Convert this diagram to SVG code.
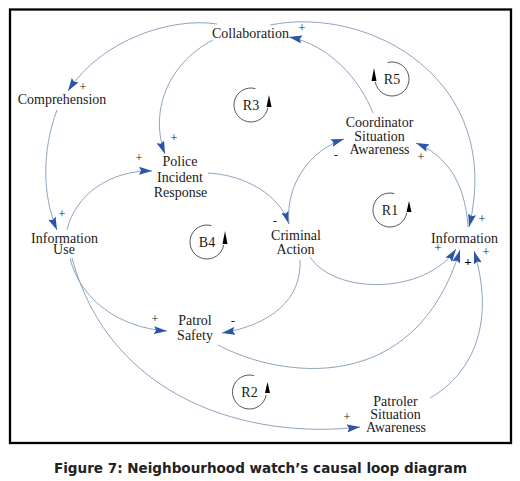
<svg xmlns="http://www.w3.org/2000/svg" width="520" height="481" viewBox="0 0 520 481">
<style>
text.lbl{font-family:'Liberation Serif',serif;font-size:14px;fill:#1a1a1a;text-anchor:middle}
text.pol{font-family:'Liberation Serif',serif;font-size:13px;fill:#222;text-anchor:middle}
.con{fill:none;stroke:#8ea4bf;stroke-width:1}
.loop{fill:none;stroke:#444;stroke-width:0.9}
.larr{fill:#000}
text.cap{font-family:'DejaVu Sans',sans-serif;font-weight:bold;font-size:13.5px;fill:#222;text-anchor:middle}
</style>
<defs>
<marker id="ah" markerUnits="userSpaceOnUse" markerWidth="13" markerHeight="8" viewBox="0 0 13 8" refX="13" refY="4" orient="auto">
<path d="M0,0 L13,4 L0,8 L2,4 z" fill="#2b55a8"/>
</marker>
</defs>
<rect id="frame" x="10" y="9.5" width="501" height="433.5" fill="none" stroke="#000" stroke-width="2.3"/>
<g id="connectors">
<path class="con" d="M217,24 C172,17 102,39 68,91" marker-end="url(#ah)"/>
<path class="con" d="M213,40 C165,65 150,115 165,154" marker-end="url(#ah)"/>
<path class="con" d="M57,110 C42,150 42,195 57,230" marker-end="url(#ah)"/>
<path class="con" d="M67,230 C75,195 110,170 152,171" marker-end="url(#ah)"/>
<path class="con" d="M208,173 C245,175 280,195 289,224" marker-end="url(#ah)"/>
<path class="con" d="M289,224 C285,185 310,150 344,139" marker-end="url(#ah)"/>
<path class="con" d="M373,113 C360,80 330,45 289,37" marker-end="url(#ah)"/>
<path class="con" d="M270,25 C370,5 505,80 469,227" marker-end="url(#ah)"/>
<path class="con" d="M468,227 C465,180 445,155 416,143" marker-end="url(#ah)"/>
<path class="con" d="M310,257 C335,295 425,295 456,249" marker-end="url(#ah)"/>
<path class="con" d="M218,345 C280,378 415,398 460,250" marker-end="url(#ah)"/>
<path class="con" d="M430,398 C475,372 495,320 474,251" marker-end="url(#ah)"/>
<path class="con" d="M300,260 C302,300 270,325 222,333" marker-end="url(#ah)"/>
<path class="con" d="M70,258 C80,300 120,328 167,331" marker-end="url(#ah)"/>
<path class="con" d="M72,258 C110,400 250,440 360,427" marker-end="url(#ah)"/>
</g>
<g font-family="Liberation Serif, serif">
<g id="collaboration"><text class="lbl" x="250.5" y="38">Collaboration</text></g>
<g id="comprehension"><text class="lbl" x="62" y="104">Comprehension</text></g>
<g id="police-incident-response">
<text class="lbl" x="180" y="166">Police</text>
<text class="lbl" x="180" y="182">Incident</text>
<text class="lbl" x="180.5" y="197">Response</text>
</g>
<g id="information-use">
<text class="lbl" x="64.5" y="243">Information</text>
<text class="lbl" x="64" y="253.5">Use</text>
</g>
<g id="criminal-action">
<text class="lbl" x="296" y="240">Criminal</text>
<text class="lbl" x="295.5" y="254">Action</text>
</g>
<g id="information"><text class="lbl" x="464.5" y="243">Information</text></g>
<g id="coordinator-situation-awareness">
<text class="lbl" x="379.5" y="127">Coordinator</text>
<text class="lbl" x="379.5" y="141">Situation</text>
<text class="lbl" x="379.5" y="154">Awareness</text>
</g>
<g id="patrol-safety">
<text class="lbl" x="195" y="325">Patrol</text>
<text class="lbl" x="195" y="340">Safety</text>
</g>
<g id="patroler-situation-awareness">
<text class="lbl" x="395.5" y="406">Patroler</text>
<text class="lbl" x="395.5" y="418.5">Situation</text>
<text class="lbl" x="396" y="431.5">Awareness</text>
</g>
<g id="polarities">
<text class="pol" x="83" y="91">+</text>
<text class="pol" x="174" y="142">+</text>
<text class="pol" x="62" y="218">+</text>
<text class="pol" x="139" y="162">+</text>
<text class="pol" x="275" y="225">-</text>
<text class="pol" x="336" y="159">-</text>
<text class="pol" x="302" y="32">+</text>
<text class="pol" x="421" y="161">+</text>
<text class="pol" x="482" y="223">+</text>
<text class="pol" x="438" y="252">+</text>
<text class="pol" x="468" y="266" style="fill:#000;font-weight:bold">+</text>
<text class="pol" x="486" y="256">+</text>
<text class="pol" x="155" y="323">+</text>
<text class="pol" x="233" y="325">-</text>
<text class="pol" x="347" y="421">+</text>
</g>
<g id="loop-R3" transform="translate(251,105)">
<path class="loop" d="M4.4,-16.4 A17,17 0 1 0 16.7,3"/>
<polygon class="larr" points="15.5,2 18,-10 20.5,2"/>
<text class="lbl" x="0" y="5">R3</text>
</g>
<g id="loop-R5" transform="translate(392,79)">
<path class="loop" d="M-4.4,-16.4 A17,17 0 1 1 -16.7,3"/>
<polygon class="larr" points="-20.5,2 -18,-11 -15.5,2"/>
<text class="lbl" x="0" y="5">R5</text>
</g>
<g id="loop-R1" transform="translate(390,210)">
<path class="loop" d="M4.4,-16.4 A17,17 0 1 0 16.7,3"/>
<polygon class="larr" points="16.5,2 19,-9 21.5,2"/>
<text class="lbl" x="0" y="5">R1</text>
</g>
<g id="loop-B4" transform="translate(207,242)">
<path class="loop" d="M4.4,-16.4 A17,17 0 1 0 16.7,3"/>
<polygon class="larr" points="15.5,2 18,-11 20.5,2"/>
<text class="lbl" x="0" y="5">B4</text>
</g>
<g id="loop-R2" transform="translate(249.5,392)">
<path class="loop" d="M4.4,-16.4 A17,17 0 1 0 16.7,3"/>
<polygon class="larr" points="15.5,1 18,-10 20.5,1"/>
<text class="lbl" x="0" y="5">R2</text>
</g>
</g>
<text class="cap" x="260.5" y="472.5" textLength="413" lengthAdjust="spacingAndGlyphs">Figure 7: Neighbourhood watch’s causal loop diagram</text>
</svg>
